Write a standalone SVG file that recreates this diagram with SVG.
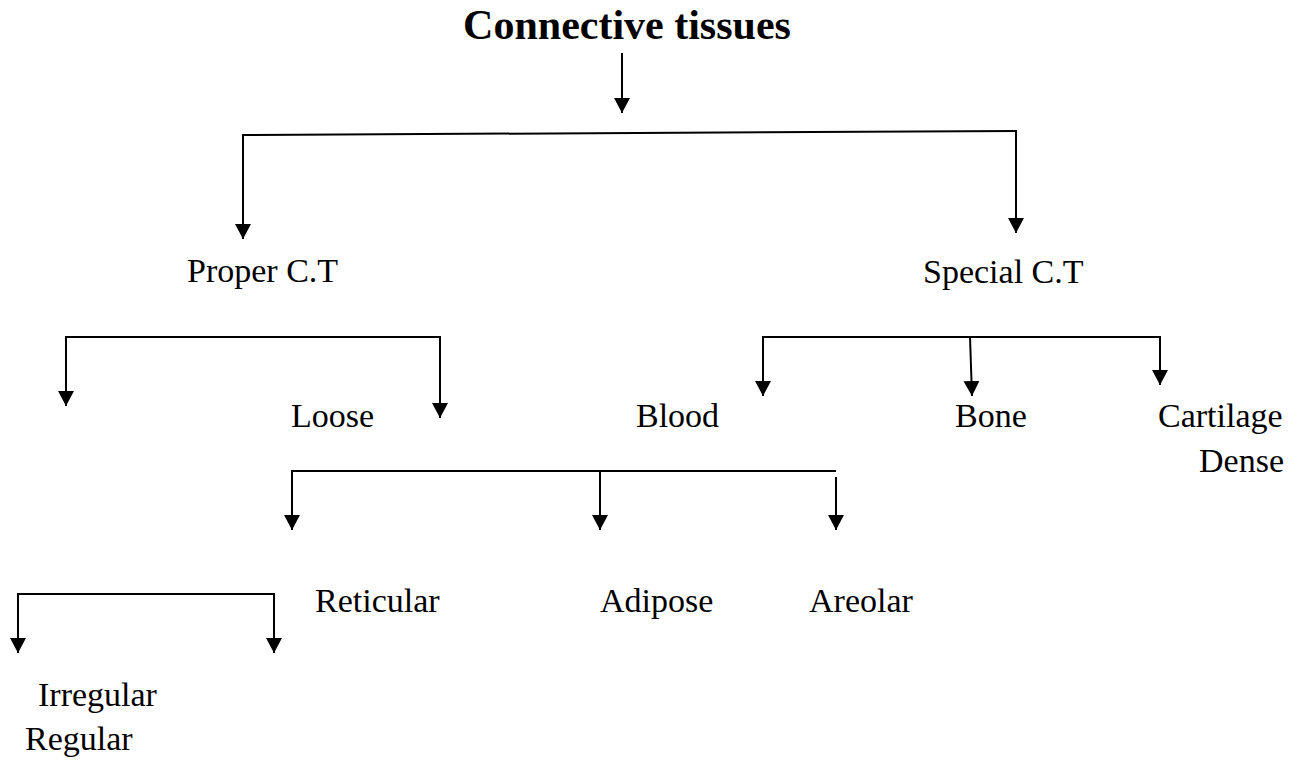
<svg xmlns="http://www.w3.org/2000/svg" width="1300" height="760" viewBox="0 0 1300 760">
<style>
  .lbl { font-family: "Liberation Serif", "Times New Roman", serif; font-size: 34px; fill: #000; }
  .title { font-family: "Liberation Serif", "Times New Roman", serif; font-size: 42px; font-weight: bold; fill: #000; }
  .ln { stroke: #000; stroke-width: 2; fill: none; }
  .arr { stroke: #000; stroke-width: 2; fill: none; marker-end: url(#ah); }
</style>
<defs>
  <marker id="ah" markerUnits="userSpaceOnUse" markerWidth="16" markerHeight="16" refX="15" refY="8" orient="auto">
    <path d="M0,0 L15,8 L0,16 Z" fill="#000"/>
  </marker>
</defs>
<rect width="1300" height="760" fill="#fff"/>
<g id="connectors">
  <line class="arr" x1="622" y1="53" x2="622" y2="113"/>
  <line class="ln" x1="242" y1="135" x2="1017" y2="131"/>
  <line class="arr" x1="243" y1="135" x2="243" y2="239"/>
  <line class="arr" x1="1016" y1="131" x2="1016" y2="233"/>
  <line class="ln" x1="65" y1="337" x2="441" y2="337"/>
  <line class="arr" x1="66" y1="337" x2="66" y2="406"/>
  <line class="arr" x1="440" y1="337" x2="440" y2="418"/>
  <line class="ln" x1="762" y1="337" x2="1161" y2="337"/>
  <line class="arr" x1="763" y1="337" x2="763" y2="396"/>
  <line class="arr" x1="970" y1="337" x2="972" y2="396"/>
  <line class="arr" x1="1160" y1="337" x2="1160" y2="385"/>
  <line class="ln" x1="291" y1="471" x2="836" y2="471"/>
  <line class="arr" x1="292" y1="471" x2="292" y2="530"/>
  <line class="arr" x1="600" y1="471" x2="600" y2="530"/>
  <line class="arr" x1="836" y1="477" x2="836" y2="530"/>
  <line class="ln" x1="17" y1="594" x2="275" y2="594"/>
  <line class="arr" x1="18" y1="594" x2="18" y2="653"/>
  <line class="arr" x1="274" y1="594" x2="274" y2="653"/>
</g>
<g id="n-title"><text class="title" x="627" y="39" text-anchor="middle">Connective tissues</text></g>
<g id="n-proper"><text class="lbl" x="187" y="282">Proper C.T</text></g>
<g id="n-special"><text class="lbl" x="923" y="283">Special C.T</text></g>
<g id="n-loose"><text class="lbl" x="291" y="427">Loose</text></g>
<g id="n-blood"><text class="lbl" x="636" y="427">Blood</text></g>
<g id="n-bone"><text class="lbl" x="955" y="427">Bone</text></g>
<g id="n-cartilage"><text class="lbl" x="1158" y="427">Cartilage</text></g>
<g id="n-dense"><text class="lbl" x="1199" y="472">Dense</text></g>
<g id="n-reticular"><text class="lbl" x="315" y="612">Reticular</text></g>
<g id="n-adipose"><text class="lbl" x="600" y="612">Adipose</text></g>
<g id="n-areolar"><text class="lbl" x="809" y="612">Areolar</text></g>
<g id="n-irregular"><text class="lbl" x="38" y="706">Irregular</text></g>
<g id="n-regular"><text class="lbl" x="25" y="750">Regular</text></g>
</svg>
